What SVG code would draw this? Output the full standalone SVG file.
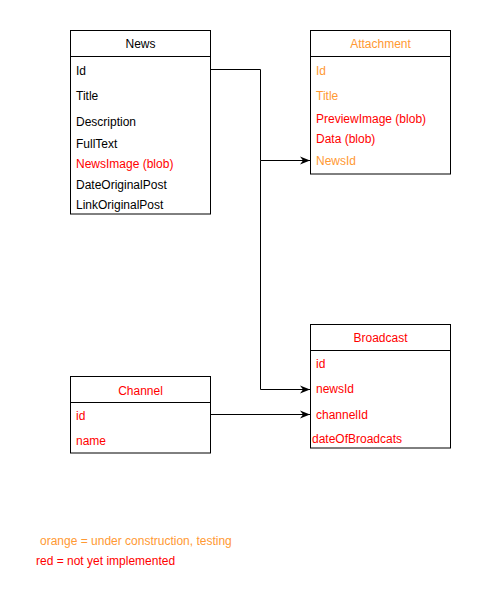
<svg xmlns="http://www.w3.org/2000/svg" width="481" height="601" viewBox="0 0 481 601">
<defs>
<style>
.box{fill:#fff;stroke:#000;stroke-width:1}
.t{font-family:"Liberation Sans",Arial,sans-serif;font-size:12px;fill:#000}
.c{text-anchor:middle}
.r{fill:#FF0000}
.o{fill:#FF9933}
.edge{fill:none;stroke:#000;stroke-width:1}
</style>
<marker id="arr" viewBox="0 0 10 10" refX="10" refY="5" markerWidth="10" markerHeight="10" markerUnits="userSpaceOnUse" orient="auto">
<path d="M0,1 L10,5 L0,9 L3,5 Z" fill="#000"/>
</marker>
</defs>
<rect width="481" height="601" fill="#fff"/>
<g id="News">
<rect class="box" x="70.5" y="30.5" width="140" height="183.5"/>
<line class="edge" x1="70.5" y1="56.5" x2="210.5" y2="56.5"/>
<text class="t c" x="140.5" y="48">News</text>
<text class="t" x="76" y="75">Id</text>
<text class="t" x="76" y="100">Title</text>
<text class="t" x="76" y="126">Description</text>
<text class="t" x="76" y="148">FullText</text>
<text class="t r" x="76" y="168">NewsImage (blob)</text>
<text class="t" x="76" y="189">DateOriginalPost</text>
<text class="t" x="76" y="209">LinkOriginalPost</text>
</g>
<g id="Attachment">
<rect class="box" x="310.5" y="30.5" width="140" height="143.5"/>
<line class="edge" x1="310.5" y1="56.5" x2="450.5" y2="56.5"/>
<text class="t c o" x="380.5" y="48">Attachment</text>
<text class="t o" x="316" y="75">Id</text>
<text class="t o" x="316" y="100">Title</text>
<text class="t r" x="316" y="123">PreviewImage (blob)</text>
<text class="t r" x="316" y="143">Data (blob)</text>
<text class="t o" x="316" y="165">NewsId</text>
</g>
<g id="Broadcast">
<rect class="box" x="310.5" y="324.5" width="140" height="123.5"/>
<line class="edge" x1="310.5" y1="350.5" x2="450.5" y2="350.5"/>
<text class="t c r" x="380.5" y="342">Broadcast</text>
<text class="t r" x="316" y="368">id</text>
<text class="t r" x="316" y="393">newsId</text>
<text class="t r" x="316" y="419">channelId</text>
<text class="t r" x="312" y="443">dateOfBroadcats</text>
</g>
<g id="Channel">
<rect class="box" x="70.5" y="376.5" width="140" height="76.5"/>
<line class="edge" x1="70.5" y1="402.5" x2="210.5" y2="402.5"/>
<text class="t c r" x="140.5" y="395">Channel</text>
<text class="t r" x="76" y="420">id</text>
<text class="t r" x="76" y="445">name</text>
</g>
<g id="connectors">
<path class="edge" d="M210.5,69.5 H260.5 V160.5 H310" marker-end="url(#arr)"/>
<path class="edge" d="M260.5,160.5 V389.5 H310" marker-end="url(#arr)"/>
<path class="edge" d="M210.5,414.5 H310" marker-end="url(#arr)"/>
</g>
<g id="legend">
<text class="t o" x="40" y="545">orange = under construction, testing</text>
<text class="t r" x="36" y="565">red = not yet implemented</text>
</g>
</svg>
